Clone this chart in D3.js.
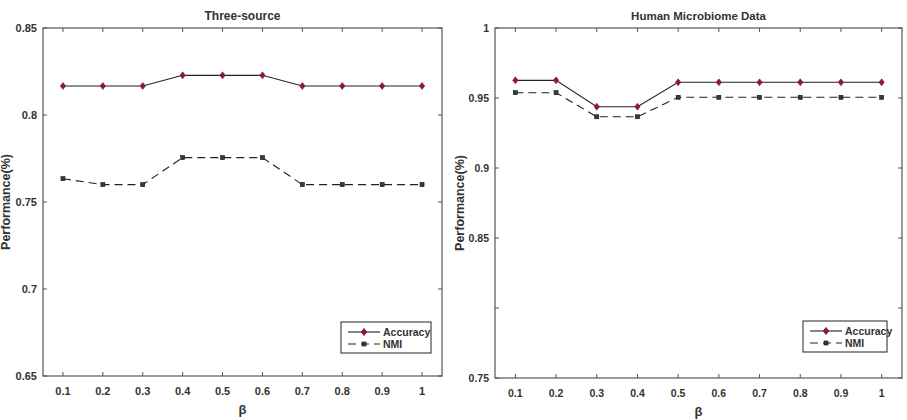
<!DOCTYPE html>
<html>
<head>
<meta charset="utf-8">
<script src="https://cdn.jsdelivr.net/npm/d3@7"></script>
<style>
  body { margin: 0; background: #fff; }
  svg { display: block; font-family: "Liberation Sans", Arial, sans-serif; }
</style>
</head>
<body>
<div id="main"></div>
<script>

const betas = [0.1, 0.2, 0.3, 0.4, 0.5, 0.6, 0.7, 0.8, 0.9, 1];

// Three-source
const threeAcc = [0.8167, 0.8167, 0.8167, 0.8228, 0.8228, 0.8228, 0.8167, 0.8167, 0.8167, 0.8167];
const threeNmi = [0.7634, 0.7600, 0.7600, 0.7755, 0.7755, 0.7755, 0.7600, 0.7600, 0.7600, 0.7600];
const threeTicks = [0.65, 0.7, 0.75, 0.8, 0.85];

// Human Microbiome
const humanAcc = [0.9626, 0.9626, 0.9438, 0.9438, 0.9612, 0.9612, 0.9612, 0.9612, 0.9612, 0.9612];
const humanNmi = [0.9538, 0.9538, 0.9366, 0.9366, 0.9505, 0.9505, 0.9505, 0.9505, 0.9505, 0.9505];
const humanTicks = [0.75, 0.8, 0.85, 0.9, 0.95, 1];
const humanLabelled = [0.75, 0.85, 0.9, 0.95, 1];

const w = 907, h = 420;
const svg = d3.select('#main').append('svg').attr('width', w).attr('height', h);

const accColor = '#8a1c2b';
const nmiColor = '#1f4a2a';
const axisColor = '#555';
const textColor = '#333';

function panel(opt) {
    const g = svg.append('g');
    const x = d3.scaleLinear().domain([0.05, 1.05]).range([opt.left, opt.right]);
    const y = d3.scaleLinear().domain(opt.yDomain).range([opt.bottom, opt.top]);

    // box
    g.append('rect')
        .attr('x', opt.left).attr('y', opt.top)
        .attr('width', opt.right - opt.left).attr('height', opt.bottom - opt.top)
        .attr('fill', 'none').attr('stroke', axisColor).attr('stroke-width', 1.2);

    // x ticks (inside, top and bottom)
    betas.forEach(b => {
        g.append('line').attr('x1', x(b)).attr('x2', x(b)).attr('y1', opt.bottom).attr('y2', opt.bottom - 4)
            .attr('stroke', axisColor);
        g.append('line').attr('x1', x(b)).attr('x2', x(b)).attr('y1', opt.top).attr('y2', opt.top + 4)
            .attr('stroke', axisColor);
        g.append('text').text(d3.format('')(b))
            .attr('x', x(b)).attr('y', opt.bottom + 19)
            .attr('text-anchor', 'middle').attr('font-size', opt.fs).attr('font-weight', 'bold')
            .attr('fill', textColor);
    });

    // y ticks
    opt.yTicks.forEach(t => {
        g.append('line').attr('x1', opt.left).attr('x2', opt.left + 4).attr('y1', y(t)).attr('y2', y(t))
            .attr('stroke', axisColor);
        g.append('line').attr('x1', opt.right).attr('x2', opt.right - 4).attr('y1', y(t)).attr('y2', y(t))
            .attr('stroke', axisColor);
    });
    opt.yLabels.forEach(t => {
        g.append('text').text(d3.format('')(t))
            .attr('x', opt.left - 6).attr('y', y(t)).attr('dy', '0.35em')
            .attr('text-anchor', 'end').attr('font-size', opt.fs).attr('font-weight', 'bold')
            .attr('fill', textColor);
    });

    // titles
    g.append('text').text(opt.title)
        .attr('x', (opt.left + opt.right) / 2).attr('y', opt.top - 8)
        .attr('text-anchor', 'middle').attr('font-size', opt.tfs).attr('font-weight', 'bold')
        .attr('fill', textColor);
    g.append('text').text('β')
        .attr('x', (opt.left + opt.right) / 2).attr('y', opt.bottom + 38)
        .attr('text-anchor', 'middle').attr('font-size', 13).attr('font-weight', 'bold')
        .attr('fill', textColor);
    g.append('text').text('Performance(%)')
        .attr('transform', `translate(${opt.ylabX},${(opt.top + opt.bottom) / 2}) rotate(-90)`)
        .attr('text-anchor', 'middle').attr('font-size', 12.5).attr('font-weight', 'bold')
        .attr('fill', textColor);

    const line = d3.line().x((d, i) => x(betas[i])).y(d => y(d));

    g.append('path').datum(opt.nmi).attr('d', line)
        .attr('fill', 'none').attr('stroke', '#222').attr('stroke-width', 1.1)
        .attr('stroke-dasharray', '8,5');
    g.append('path').datum(opt.acc).attr('d', line)
        .attr('fill', 'none').attr('stroke', '#222').attr('stroke-width', 1.1);

    const diamond = (cx, cy) => `M${cx},${cy - 3.5}L${cx + 2.7},${cy}L${cx},${cy + 3.5}L${cx - 2.7},${cy}Z`;

    g.selectAll('.nmi').data(opt.nmi).enter().append('rect')
        .attr('x', (d, i) => x(betas[i]) - 2).attr('y', d => y(d) - 2)
        .attr('width', 4).attr('height', 4)
        .attr('fill', nmiColor).attr('stroke', '#111').attr('stroke-width', 0.6);
    g.selectAll('.acc').data(opt.acc).enter().append('path')
        .attr('d', (d, i) => diamond(x(betas[i]), y(d)))
        .attr('fill', accColor).attr('stroke', accColor).attr('stroke-width', 0.6);

    // legend
    const lg = g.append('g').attr('transform', `translate(${opt.legX},${opt.legY})`);
    lg.append('rect').attr('width', opt.legW).attr('height', 31)
        .attr('fill', '#fff').attr('stroke', '#222').attr('stroke-width', 1);
    lg.append('line').attr('x1', 7).attr('x2', 39).attr('y1', 10).attr('y2', 10)
        .attr('stroke', '#222').attr('stroke-width', 1.1);
    lg.append('path').attr('d', diamond(23, 10)).attr('fill', accColor).attr('stroke', accColor);
    lg.append('line').attr('x1', 7).attr('x2', 39).attr('y1', 22).attr('y2', 22)
        .attr('stroke', '#222').attr('stroke-width', 1.1).attr('stroke-dasharray', '8,5');
    lg.append('rect').attr('x', 21).attr('y', 20).attr('width', 4).attr('height', 4)
        .attr('fill', nmiColor).attr('stroke', '#111').attr('stroke-width', 0.6);
    lg.append('text').text('Accuracy').attr('x', 42).attr('y', 10).attr('dy', '0.35em')
        .attr('font-size', 10.5).attr('font-weight', 'bold').attr('fill', textColor);
    lg.append('text').text('NMI').attr('x', 42).attr('y', 22).attr('dy', '0.35em')
        .attr('font-size', 10.5).attr('font-weight', 'bold').attr('fill', textColor);
}

panel({
    left: 43, right: 442, top: 28, bottom: 376,
    yDomain: [0.65, 0.85], yTicks: threeTicks, yLabels: threeTicks,
    acc: threeAcc, nmi: threeNmi, title: 'Three-source', fs: 11, tfs: 12, ylabX: 10,
    legX: 341, legY: 322, legW: 90
});

panel({
    left: 495, right: 902, top: 28, bottom: 378,
    yDomain: [0.75, 1], yTicks: humanTicks, yLabels: humanLabelled,
    acc: humanAcc, nmi: humanNmi, title: 'Human Microbiome Data', fs: 10.5, tfs: 11.5, ylabX: 464,
    legX: 803, legY: 321, legW: 84
});

</script>
</body>
</html>
